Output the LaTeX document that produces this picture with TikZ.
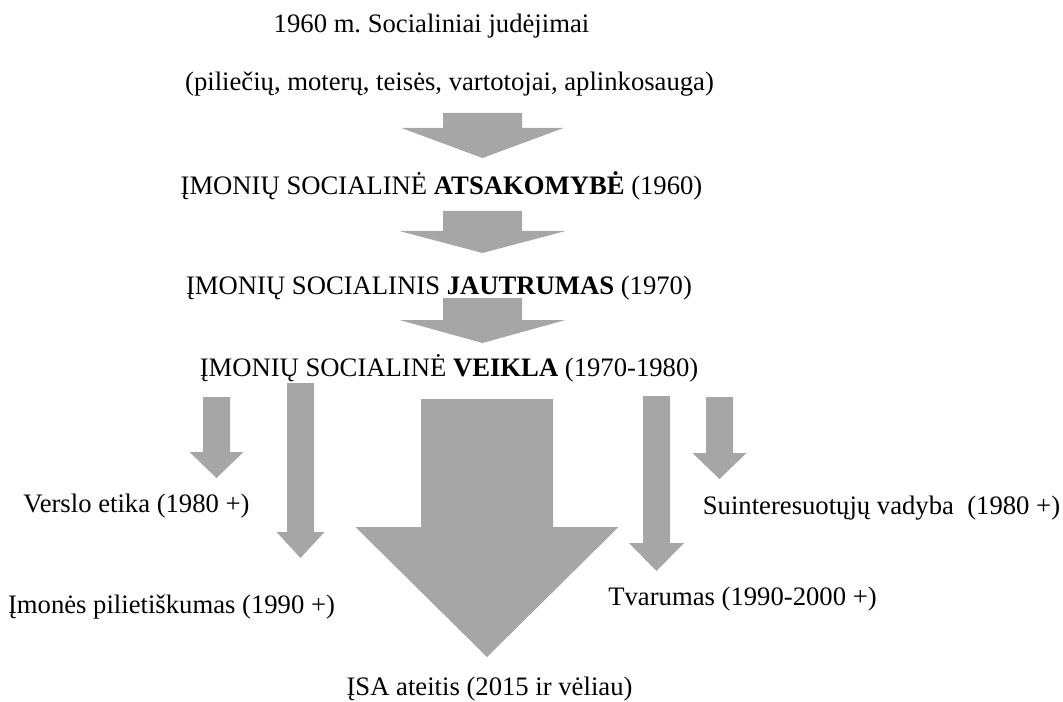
\documentclass[tikz,border=0pt]{standalone}
\usepackage{fontspec}
\setmainfont{Liberation Serif}
\usepackage{xcolor}
\usepackage{tikz}
\usetikzlibrary{positioning}
\frenchspacing
\definecolor{isagrey}{HTML}{A6A6A6}
\tikzset{
  lbl/.style = {inner sep=0pt, anchor=base, font=\fontsize{20}{24}\selectfont},
  blk/.style = {fill=isagrey, draw=none},
}

\begin{document}
\begin{tikzpicture}[x=0.75pt,y=-0.75pt]
  \useasboundingbox (0,0) rectangle (1063,702);
  % stages
  \node[lbl] (src)   at (431.5,33)  {1960 m. Socialiniai judėjimai};
  \node[lbl] (grp)   at (449.5,91)  {(piliečių, moterų, teisės, vartotojai, aplinkosauga)};
  \node[lbl] (atsak) at (441.5,195) {ĮMONIŲ SOCIALINĖ \textbf{ATSAKOMYBĖ} (1960)};
  \node[lbl] (jautr) at (439,295)   {ĮMONIŲ SOCIALINIS \textbf{JAUTRUMAS} (1970)};
  \node[lbl] (veikl) at (449,376)   {ĮMONIŲ SOCIALINĖ \textbf{VEIKLA} (1970-1980)};
  % branches
  \node[lbl] (etika) at (136.5,512) {Verslo etika (1980 +)};
  \node[lbl] (pilie) at (171.5,613) {Įmonės pilietiškumas (1990 +)};
  \node[lbl] (ateit) at (489.5,695) {ĮSA ateitis (2015 ir vėliau)};
  \node[lbl] (tvar)  at (742.5,605) {Tvarumas (1990-2000 +)};
  \node[lbl] (suint) at (881.5,514) {Suinteresuotųjų vadyba\ \ (1980 +)};
  % block arrows: centre / top / neck / tip / shaft half / head half
  \foreach \x/\t/\n/\p/\s/\h in {482.5/113/128/158/39.5/81,
                                  482.5/211/231/253/39.5/83,
                                  482.5/298/320/343/39.5/83,
                                  216.5/397/452/478/13.5/27,
                                  300.5/383/532/558/13.5/24,
                                  487/399/527/657/66/131.5,
                                  656.5/396/543/571/13.5/27.5,
                                  719.5/397/453/479/13.5/27}{
    \fill[blk] (\x-\s,\t) -- (\x+\s,\t) -- (\x+\s,\n) -- (\x+\h,\n)
      -- (\x,\p) -- (\x-\h,\n) -- (\x-\s,\n) -- cycle;
  }
\end{tikzpicture}
\end{document}
